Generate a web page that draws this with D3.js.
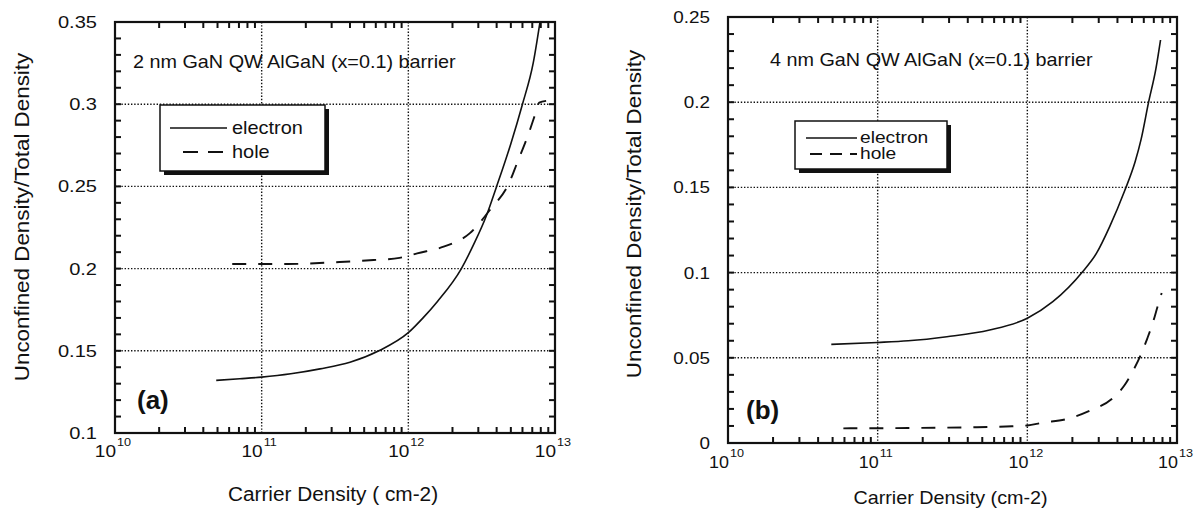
<!DOCTYPE html>
<html>
<head>
<meta charset="utf-8">
<script src="https://cdn.jsdelivr.net/npm/d3@7/dist/d3.min.js"></script>
<style>
  html, body { margin: 0; padding: 0; background: #fff; }
  svg { display: block; }
  text { font-family: "Liberation Sans", Arial, Helvetica, sans-serif; fill: #111; }
</style>
</head>
<body>
<svg id="chart" width="1196" height="511"></svg>
<script>
// ---------------- data ----------------
const xTickValues = [1e10, 1e11, 1e12, 1e13];
const xTickExponents = ["10", "11", "12", "13"];

const yTicksA = [0.1, 0.15, 0.2, 0.25, 0.3, 0.35];
const yTickLabelsA = ["0.1", "0.15", "0.2", "0.25", "0.3", "0.35"];
const yTicksB = [0, 0.05, 0.1, 0.15, 0.2, 0.25];
const yTickLabelsB = ["0", "0.05", "0.1", "0.15", "0.2", "0.25"];

// Panel (a): 2 nm GaN QW
const electronDensityA = [4.9e10, 7.1e10, 1e11, 1.58e11, 2.5e11, 4e11, 6.3e11, 1e12, 1.26e12, 1.58e12, 2.3e12, 2.8e12, 3.4e12, 4e12, 5e12, 6e12, 7.1e12, 7.9e12];
const electronFractionA = [0.132, 0.133, 0.134, 0.136, 0.139, 0.143, 0.150, 0.161, 0.170, 0.180, 0.200, 0.215, 0.232, 0.250, 0.276, 0.300, 0.325, 0.350];
const holeDensityA = [6.3e10, 1.5e11, 3.4e11, 5.8e11, 8.7e11, 1.15e12, 1.74e12, 2.63e12, 3.6e12, 4.9e12, 5.5e12, 6.6e12, 7.4e12, 7.8e12, 8.7e12];
const holeFractionA = [0.2028, 0.2028, 0.2040, 0.2052, 0.2065, 0.2093, 0.2133, 0.2216, 0.2357, 0.2527, 0.264, 0.282, 0.295, 0.301, 0.302];

// Panel (b): 4 nm GaN QW
const electronDensityB = [4.9e10, 1e11, 1.6e11, 2.9e11, 5.6e11, 1e12, 1.48e12, 2.34e12, 2.9e12, 3.55e12, 4.47e12, 5.25e12, 5.75e12, 6.46e12, 7.24e12, 7.76e12];
const electronFractionB = [0.0579, 0.0590, 0.0600, 0.0624, 0.0663, 0.0732, 0.0829, 0.1005, 0.1114, 0.127, 0.148, 0.165, 0.178, 0.200, 0.220, 0.2365];
const holeDensityB = [5.9e10, 1.6e11, 4e11, 7.9e11, 1e12, 1.26e12, 1.8e12, 2.6e12, 3.8e12, 4.47e12, 5.13e12, 5.75e12, 6.31e12, 6.92e12, 7.41e12, 7.9e12];
const holeFractionB = [0.0086, 0.0088, 0.0092, 0.0098, 0.0103, 0.0119, 0.0139, 0.0188, 0.027, 0.034, 0.043, 0.052, 0.061, 0.071, 0.080, 0.088];

const seriesNames = ["electron", "hole"];
const xTitleA = "Carrier Density ( cm-2)";
const xTitleB = "Carrier Density (cm-2)";
const yTitle = "Unconfined Density/Total Density";
const noteA = "2 nm GaN QW AlGaN (x=0.1) barrier";
const noteB = "4 nm GaN QW AlGaN (x=0.1) barrier";

// ---------------- drawing ----------------
const svg = d3.select("#chart");

function stext(g, x, y, str, o) {
  o = o || {};
  const sx = o.sx || 1;
  const rot = o.rotate ? ` rotate(${o.rotate})` : "";
  return g.append("text")
    .attr("transform", `translate(${x},${y})${rot} scale(${sx},1)`)
    .attr("text-anchor", o.anchor || "start")
    .attr("font-size", o.size || 16)
    .attr("font-weight", o.weight || "normal")
    .attr("font-family", o.family || null)
    .text(str);
}

function panel(cfg) {
  const g = svg.append("g");
  const x = d3.scaleLog().domain([1e10, 1e13]).range([cfg.left, cfg.right]);
  const y = d3.scaleLinear().domain(cfg.yDomain).range([cfg.bottom, cfg.top]);
  const w = cfg.right - cfg.left, h = cfg.bottom - cfg.top;

  const minor = [];
  for (let e = 10; e < 13; e++) for (let k = 2; k <= 9; k++) minor.push(k * Math.pow(10, e));
  const yMinor = d3.range(Math.round(cfg.yDomain[0] * 100), Math.round(cfg.yDomain[1] * 100) + 1).map(v => v / 100);

  // frame
  g.append("rect").attr("x", cfg.left).attr("y", cfg.top).attr("width", w).attr("height", h)
    .attr("fill", "none").attr("stroke", "#111").attr("stroke-width", 2.2);

  // dotted grid
  const grid = g.append("g");
  grid.selectAll("line.gx").data([1e11, 1e12]).join("line").attr("class", "gx")
    .attr("x1", d => x(d)).attr("x2", d => x(d)).attr("y1", cfg.top).attr("y2", cfg.bottom);
  grid.selectAll("line.gy").data(cfg.yTicks.slice(1, -1)).join("line").attr("class", "gy")
    .attr("x1", cfg.left).attr("x2", cfg.right).attr("y1", d => y(d)).attr("y2", d => y(d));
  grid.selectAll("line").attr("stroke", "#111").attr("stroke-width", 1.4).attr("stroke-dasharray", "1.4,1.8");

  // inward ticks on all four sides
  const tk = g.append("g");
  tk.selectAll("line.xb").data(minor).join("line").attr("class", "xb")
    .attr("x1", d => x(d)).attr("x2", d => x(d)).attr("y1", cfg.bottom).attr("y2", cfg.bottom - 6);
  tk.selectAll("line.xt").data(minor).join("line").attr("class", "xt")
    .attr("x1", d => x(d)).attr("x2", d => x(d)).attr("y1", cfg.top).attr("y2", cfg.top + 6);
  tk.selectAll("line.yl").data(yMinor).join("line").attr("class", "yl")
    .attr("y1", d => y(d)).attr("y2", d => y(d)).attr("x1", cfg.left).attr("x2", cfg.left + 6);
  tk.selectAll("line.yr").data(yMinor).join("line").attr("class", "yr")
    .attr("y1", d => y(d)).attr("y2", d => y(d)).attr("x1", cfg.right).attr("x2", cfg.right - 6);
  tk.selectAll("line").attr("stroke", "#111").attr("stroke-width", 2);

  // y tick labels
  cfg.yTicks.forEach((v, i) => {
    stext(g, cfg.left - 18, y(v) + 6, cfg.yLabels[i], { anchor: "end", size: cfg.tickSize, sx: 1.18 });
  });
  // x tick labels 10^n
  xTickValues.forEach((v, i) => {
    stext(g, x(v) + 1, cfg.bottom + cfg.xLabDy, "10", { anchor: "end", size: cfg.tickSize, sx: 1.12 });
    stext(g, x(v) + 2, cfg.bottom + cfg.xLabDy - 11, xTickExponents[i], { anchor: "start", size: 11.5, sx: 1.1 });
  });

  // titles
  stext(g, (cfg.left + cfg.right) / 2 - 2, cfg.xTitleY, cfg.xTitle, { anchor: "middle", size: cfg.titleSize, sx: 1.04 });
  stext(g, cfg.yTitleX, cfg.yTitleY, yTitle, { anchor: "middle", size: 20, rotate: -90, sx: 1.12 });

  // annotation
  stext(g, cfg.noteX, cfg.noteY, cfg.note, { size: 18, sx: 1.1 });
  // panel label
  stext(g, cfg.tagX, cfg.tagY, cfg.tag, { size: 26, weight: "bold", family: "'Liberation Serif', 'Times New Roman', serif" });

  // curves
  const lineGen = d3.line().x(d => x(d[0])).y(d => y(d[1])).curve(d3.curveMonotoneX);
  const eData = cfg.eX.map((v, i) => [v, cfg.eY[i]]);
  const hData = cfg.hX.map((v, i) => [v, cfg.hY[i]]);
  g.append("path").attr("d", lineGen(eData)).attr("fill", "none").attr("stroke", "#111").attr("stroke-width", 1.6);
  g.append("path").attr("d", lineGen(hData)).attr("fill", "none").attr("stroke", "#111").attr("stroke-width", 1.9)
    .attr("stroke-dasharray", "14,12");

  // legend
  const L = cfg.legend;
  g.append("rect").attr("x", L.x + 4).attr("y", L.y + 4).attr("width", L.w).attr("height", L.h).attr("fill", "#111");
  g.append("rect").attr("x", L.x).attr("y", L.y).attr("width", L.w).attr("height", L.h)
    .attr("fill", "#fff").attr("stroke", "#111").attr("stroke-width", 1.5);
  g.append("line").attr("x1", L.x + L.lx1).attr("x2", L.x + L.lx2).attr("y1", L.y + L.r1).attr("y2", L.y + L.r1)
    .attr("stroke", "#111").attr("stroke-width", 1.6);
  g.append("line").attr("x1", L.x + L.hx1).attr("x2", L.x + L.lx2).attr("y1", L.y + L.r2).attr("y2", L.y + L.r2)
    .attr("stroke", "#111").attr("stroke-width", 1.8).attr("stroke-dasharray", L.dash);
  stext(g, L.x + L.tx, L.y + L.r1 + L.dy, seriesNames[0], { size: L.size, sx: L.sx });
  stext(g, L.x + L.tx, L.y + L.r2 + L.dy, seriesNames[1], { size: L.size, sx: L.sx });
}

panel({
  left: 115, right: 555, top: 22, bottom: 433,
  yDomain: [0.1, 0.35], yTicks: yTicksA, yLabels: yTickLabelsA,
  tickSize: 17, xLabDy: 24,
  xTitle: xTitleA, xTitleY: 501, titleSize: 20,
  yTitleX: 29, yTitleY: 217,
  note: noteA, noteX: 133, noteY: 68,
  tag: "(a)", tagX: 137, tagY: 409,
  eX: electronDensityA, eY: electronFractionA, hX: holeDensityA, hY: holeFractionA,
  legend: { x: 160, y: 105, w: 165, h: 66, lx1: 10, lx2: 67, hx1: 23, r1: 23, r2: 47, tx: 72, dy: 6, dash: "15,10", size: 19, sx: 1.05 }
});

panel({
  left: 728, right: 1177, top: 17, bottom: 443,
  yDomain: [0, 0.25], yTicks: yTicksB, yLabels: yTickLabelsB,
  tickSize: 16, xLabDy: 25,
  xTitle: xTitleB, xTitleY: 504, titleSize: 19,
  yTitleX: 641, yTitleY: 214,
  note: noteB, noteX: 770, noteY: 66,
  tag: "(b)", tagX: 746, tagY: 419,
  eX: electronDensityB, eY: electronFractionB, hX: holeDensityB, hY: holeFractionB,
  legend: { x: 795, y: 121, w: 152, h: 48, lx1: 11, lx2: 62, hx1: 15, r1: 17, r2: 33, dy: 5, tx: 65, dash: "12,8", size: 16, sx: 1.2 }
});
</script>
</body>
</html>
